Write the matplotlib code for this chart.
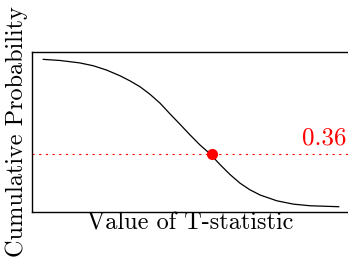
import matplotlib
matplotlib.use("Agg")
import matplotlib.pyplot as plt

plt.rcParams['font.family'] = 'serif'
plt.rcParams['font.serif'] = ['cmr10', 'DejaVu Serif']
plt.rcParams['axes.formatter.use_mathtext'] = True

# Curve values
t_values = [-2.99, -2.65, -2.25, -1.97, -1.70, -1.43, -1.22, -1.02, -0.82, -0.61, -0.41,
            -0.20, 0.0, 0.20, 0.41, 0.61, 0.82, 1.02, 1.22, 1.43, 1.77, 2.11, 2.45, 3.03]
cum_prob = [0.954, 0.947, 0.932, 0.914, 0.887, 0.852, 0.819, 0.783, 0.737, 0.680, 0.614,
            0.547, 0.482, 0.420, 0.363, 0.297, 0.233, 0.180, 0.139, 0.106, 0.070, 0.049, 0.039, 0.033]
point_t = 0.44
point_p = 0.36
point_label = "0.36"

fig = plt.figure(figsize=(3.48, 2.57), dpi=100)
ax = fig.add_axes([32/348, 1-212/257, 316/348, 160/257])

ax.plot(t_values, cum_prob, color='black', lw=0.9)
ax.axhline(point_p, color='red', lw=0.8, linestyle=(0, (2, 4)))
ax.plot([point_t], [point_p], 'o', color='red', markersize=7)
ax.text(0.995, point_p + 0.03, point_label, color='red', fontsize=18,
        ha='right', va='bottom', transform=ax.get_yaxis_transform())

ax.set_xlim(-3.22, 3.22)
ax.set_ylim(0, 1)
ax.set_xticks([])
ax.set_yticks([])
ax.spines['right'].set_visible(False)
for s in ['left', 'top', 'bottom']:
    ax.spines[s].set_linewidth(1.0)
ax.set_xlabel("Value of T-statistic", fontsize=17.5, labelpad=0)
ax.set_ylabel("Cumulative Probability", fontsize=17.5, labelpad=3)

fig.savefig("out.png", dpi=100)
